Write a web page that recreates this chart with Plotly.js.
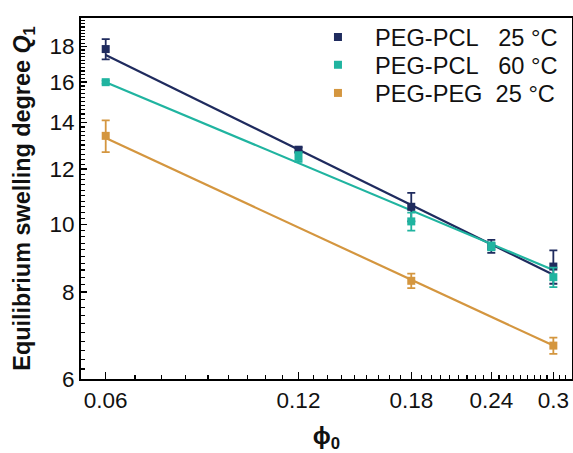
<!DOCTYPE html>
<html>
<head>
<meta charset="utf-8">
<script src="https://cdn.plot.ly/plotly-3.0.1.min.js"></script>
<style>html,body{margin:0;padding:0;background:#fff;}#chart{width:573px;height:453px;}</style>
</head>
<body>
<div id="chart"></div>
<script>
// ---- data ----
const phiPCL = [0.06, 0.12, 0.18, 0.24, 0.3];
const q25PCL = [17.85, 12.8, 10.6, 9.3, 8.7];
const err25PCL = [0.6, 0.1, 0.5, 0.2, 0.48];
const q60PCL = [16.0, 12.5, 10.1, 9.3, 8.4];
const err60PCL = [0.08, 0.2, 0.3, 0.12, 0.27];
const phiPEG = [0.06, 0.18, 0.3];
const q25PEG = [13.4, 8.3, 6.7];
const err25PEG = [0.7, 0.2, 0.18];
// power-law fit lines (end points)
const fitPhi = [0.06, 0.3];
const fit25PCL = [17.5, 8.47];
const fit60PCL = [16.0, 8.6];
const fit25PEG = [13.3, 6.7];
const names = ['PEG-PCL\u00a0\u00a0\u00a025 °C', 'PEG-PCL\u00a0\u00a0\u00a060 °C', 'PEG-PEG\u00a0\u00a025 °C'];
const xTicks = [0.06, 0.12, 0.18, 0.24, 0.3];
const xTickText = ['0.06', '0.12', '0.18', '0.24', '0.3'];
const yTicks = [6, 8, 10, 12, 14, 16, 18];

const cNavy = '#1f2b5e', cTeal = '#20b4a0', cOrange = '#d4963f';

const xMinor = [];
for (let i = 0; i <= 40; i++) { const v = 0.06 + i * 0.06 / 9; if (v < 0.32) xMinor.push(+v.toFixed(5)); }
const yMinor = [];
for (let i = 0; i <= 70; i++) { const v = 6 + i * 0.2; if (v < 19.8) yMinor.push(+v.toFixed(2)); }

function line(y, c) {
  return {x: fitPhi, y: y, mode: 'lines', line: {color: c, width: 2.2}, showlegend: false, hoverinfo: 'skip'};
}
function pts(x, y, e, c, n, lg) {
  return {x: x, y: y, name: n, mode: 'markers', type: 'scatter', legend: lg,
    marker: {symbol: 'square', size: 8, color: c},
    error_y: {type: 'data', array: e, visible: true, color: c, thickness: 1.8, width: 4}};
}
const data = [
  line(fit25PEG, cOrange), line(fit25PCL, cNavy), line(fit60PCL, cTeal),
  pts(phiPCL, q25PCL, err25PCL, cNavy, names[0], 'legend'),
  pts(phiPCL, q60PCL, err60PCL, cTeal, names[1], 'legend2'),
  pts(phiPEG, q25PEG, err25PEG, cOrange, names[2], 'legend3')
];
const font = {family: 'Liberation Sans, Arial, sans-serif', color: '#111'};
function lgd(yc) {
  return {x: 0.448, y: yc, xanchor: 'left', yanchor: 'middle', bgcolor: 'rgba(0,0,0,0)',
    font: Object.assign({size: 23.6}, font), itemwidth: 64};
}
const layout = {
  width: 573, height: 453,
  margin: {l: 81, r: 1, t: 18, b: 74},
  paper_bgcolor: '#fff', plot_bgcolor: '#fff',
  font: Object.assign({size: 22}, font),
  showlegend: true,
  legend: lgd(0.947), legend2: lgd(0.870), legend3: lgd(0.792),
  xaxis: {
    type: 'log', range: [Math.log10(0.0549), Math.log10(0.3208)],
    tickmode: 'array', tickvals: xTicks, ticktext: xTickText,
    ticks: 'inside', ticklen: 7, tickwidth: 1.5, tickcolor: '#000',
    showline: true, linecolor: '#000', linewidth: 2, mirror: true,
    showgrid: false, zeroline: false,
    tickfont: Object.assign({size: 22.5}, font),
    minor: {tickmode: 'array', tickvals: xMinor, ticks: 'inside', ticklen: 4, tickwidth: 1.2, tickcolor: '#000', showgrid: false},
    title: {text: '<b>ϕ<sub>0</sub></b>', font: Object.assign({size: 24}, font), standoff: 25}
  },
  yaxis: {
    type: 'log', range: [Math.log10(6), Math.log10(19.78)],
    tickmode: 'array', tickvals: yTicks,
    ticks: 'inside', ticklen: 6, tickwidth: 1.5, tickcolor: '#000',
    showline: true, linecolor: '#000', linewidth: 2, mirror: true,
    showgrid: false, zeroline: false,
    tickfont: Object.assign({size: 22.5}, font),
    minor: {tickmode: 'array', tickvals: yMinor, ticks: 'inside', ticklen: 3.5, tickwidth: 1.2, tickcolor: '#000', showgrid: false},
    title: {text: '<b>Equilibrium swelling degree <i>Q</i><sub>1</sub></b>', font: Object.assign({size: 23.4}, font), standoff: 12}
  }
};
Plotly.newPlot('chart', data, layout, {displayModeBar: false, staticPlot: true});
</script>
</body>
</html>
